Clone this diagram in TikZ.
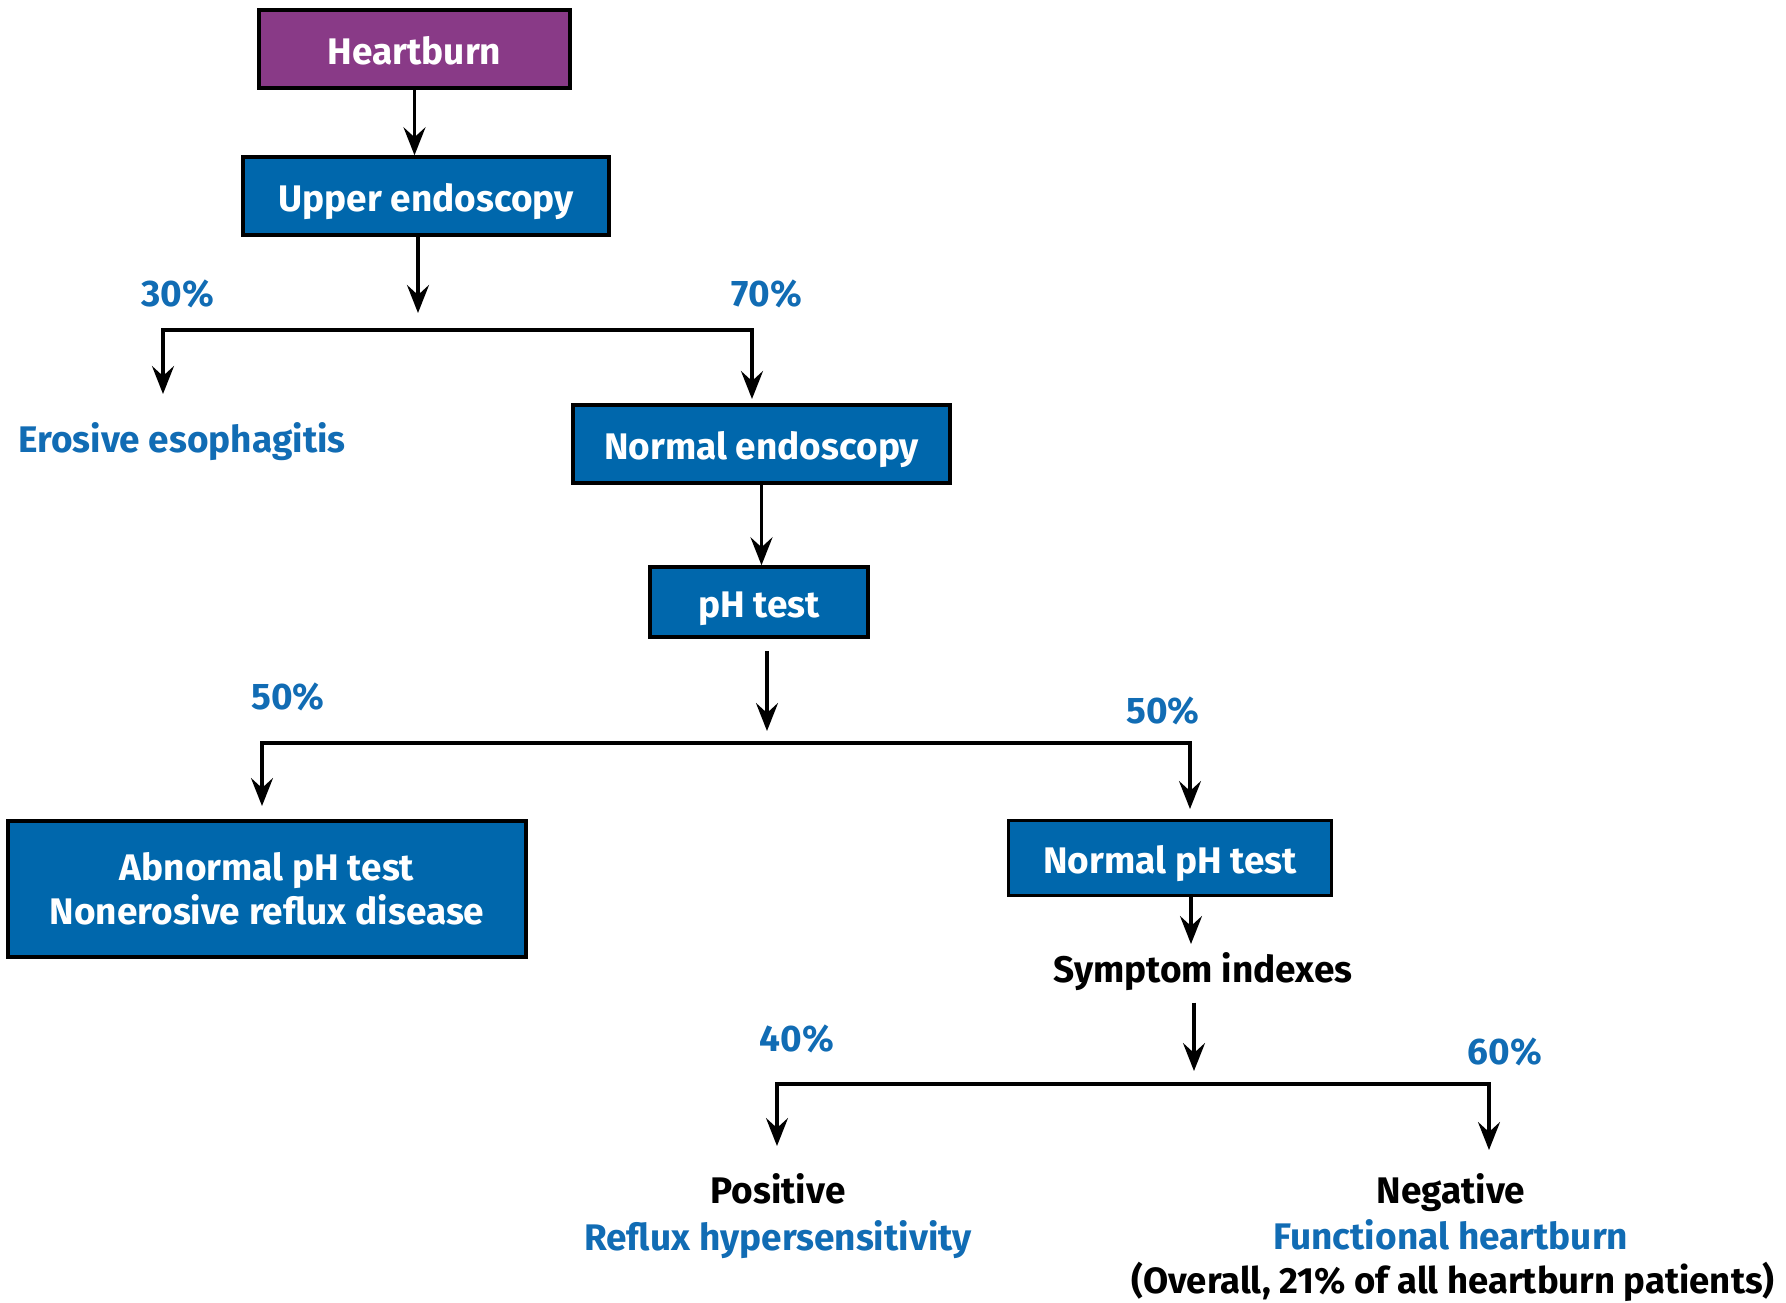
\documentclass[tikz,border=0pt]{standalone}
\usepackage{fontspec}
\setmainfont{Fira Sans}
\usetikzlibrary{arrows.meta}
\definecolor{boxblue}{RGB}{0,103,172}
\definecolor{txtblue}{RGB}{17,108,180}
\definecolor{hbpurple}{RGB}{137,58,135}
\tikzset{
  bigfont/.style={font=\fontsize{37}{44}\selectfont\bfseries},
  onerow/.style={text height=30pt, text depth=0pt},
  fbox/.style={draw=black, line width=3.5pt, fill=boxblue, text=white,
    bigfont, inner sep=0pt, align=center},
  lbl/.style={text=txtblue, bigfont, inner sep=0pt, text height=27pt, text depth=8pt},
  blk/.style={text=black, bigfont, inner sep=0pt, text height=27pt, text depth=8pt},
  arr/.style={line width=3.4pt, -{Stealth[length=28pt,width=22pt,inset=10pt]}},
}
\begin{document}
\begin{tikzpicture}[x=1pt,y=-1pt]
\useasboundingbox (0,0) rectangle (1786,1302);
% boxes
\node[fbox, onerow, fill=hbpurple, minimum width=311pt, minimum height=78pt] (hb) at (414.5,49) {Heartburn};
\node[fbox, onerow, minimum width=366pt, minimum height=78pt] (up) at (426,196) {Upper endoscopy};
\node[fbox, onerow, minimum width=377pt, minimum height=78pt] (ne) at (761.5,444) {Normal endoscopy};
\node[fbox, onerow, minimum width=218pt, minimum height=70pt] (ph) at (759,602) {pH test};
\node[fbox, minimum width=518pt, minimum height=136pt] (ab) at (267,889) {Abnormal pH test\\Nonerosive reflux disease};
\node[fbox, onerow, minimum width=323pt, minimum height=75pt] (np) at (1170,858) {Normal pH test};
% texts
\node[lbl] (p30) at (178,297) {30\%};
\node[lbl] (p70) at (767,297) {70\%};
\node[lbl] (ero) at (182,443) {Erosive esophagitis};
\node[lbl] (p50a) at (288,700) {50\%};
\node[lbl] (p50b) at (1163,714) {50\%};
\node[blk] (sym) at (1203,973) {Symptom indexes};
\node[lbl] (p40) at (797,1042) {40\%};
\node[lbl] (p60) at (1505,1055) {60\%};
\node[blk] (pos) at (778,1194) {Positive};
\node[lbl] (rh) at (778,1241) {Reflux hypersensitivity};
\node[blk] (neg) at (1451,1194) {Negative};
\node[lbl] (fh) at (1451,1240) {Functional heartburn};
\node[blk, font=\fontsize{36.5}{44}\selectfont\bfseries] (ov) at (1453,1284) {(Overall, 21\% of all heartburn patients)};
% coordinates
\coordinate (t1) at (418,313);
\coordinate (b1) at (418,330);
\coordinate (d1L) at (163,394);
\coordinate (d1R) at (752,399);
\coordinate (t2) at (767,731);
\coordinate (b2) at (767,743);
\coordinate (d2L) at (262,806);
\coordinate (d2R) at (1190,809);
\coordinate (t4) at (1191,944);
\coordinate (t3) at (1194,1071);
\coordinate (b3) at (1194,1084);
\coordinate (d3L) at (777,1146);
\coordinate (d3R) at (1489,1150);
% connectors
\draw[arr] (hb.south) -- (hb.south |- up.north);
\draw[arr] (up.south -| t1) -- (t1);
\draw[arr] (b1) -| (d1L);
\draw[arr] (b1) -| (d1R);
\draw[arr] (ne.south) -- (ne.south |- ph.north);
\draw[arr] (ph.south -| t2) ++(0,12) -- (t2);
\draw[arr] (b2) -| (d2L);
\draw[arr] (b2) -| (d2R);
\draw[arr] (np.south -| t4) -- (t4);
\draw[arr] (sym.south -| t3) ++(0,12) -- (t3);
\draw[arr] (b3) -| (d3L);
\draw[arr] (b3) -| (d3R);
\end{tikzpicture}
\end{document}
